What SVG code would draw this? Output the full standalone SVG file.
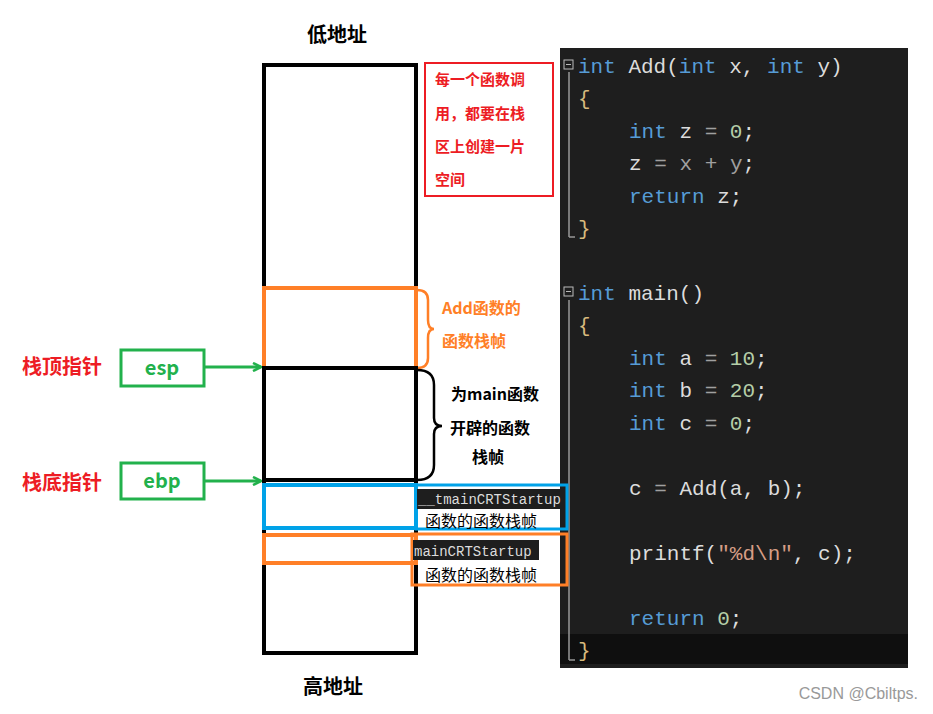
<svg xmlns="http://www.w3.org/2000/svg" width="933" height="714" viewBox="0 0 933 714">
<style>
.b{font-family:"Noto Sans CJK SC","Liberation Sans",sans-serif;font-weight:bold}
.c{font-family:"Liberation Mono",monospace;font-size:21px;fill:#dcdcdc}
.k{fill:#569cd6}.n{fill:#b5cea8}.br{fill:#d7ba7d}.o{fill:#a0a0a0}
.s{font-family:"Noto Sans CJK SC",sans-serif;font-size:16px}
</style>
<defs><marker id="ga" markerWidth="10" markerHeight="10" refX="9" refY="5" orient="auto" markerUnits="userSpaceOnUse"><path d="M1,1 L9,5 L1,9" fill="none" stroke="#22b14c" stroke-width="2.5"/></marker></defs>
<rect width="933" height="714" fill="#fff"/>
<g id="code">
<rect x="560" y="48" width="348" height="620" fill="#1e1e1e"/>
<rect x="560" y="634" width="348" height="30" fill="#0f0f0f"/>
<line x1="569" y1="72" x2="569" y2="237" stroke="#999" stroke-width="1.5"/><line x1="569" y1="237" x2="575" y2="237" stroke="#999" stroke-width="1.5"/>
<line x1="569" y1="300" x2="569" y2="660" stroke="#999" stroke-width="1.5"/><line x1="569" y1="660" x2="575" y2="660" stroke="#999" stroke-width="1.5"/>
<rect x="564" y="60" width="9" height="9" fill="none" stroke="#bbb"/><line x1="566" y1="64.5" x2="571" y2="64.5" stroke="#bbb"/>
<rect x="564" y="287" width="9" height="9" fill="none" stroke="#bbb"/><line x1="566" y1="291.5" x2="571" y2="291.5" stroke="#bbb"/>
<text class="c" x="578" y="73" xml:space="preserve"><tspan class="k">int</tspan> Add(<tspan class="k">int</tspan> x, <tspan class="k">int</tspan> y)</text>
<text class="c br" x="578" y="105">{</text>
<text class="c" x="629" y="138" xml:space="preserve"><tspan class="k">int</tspan> z <tspan class="o">=</tspan> <tspan class="n">0</tspan>;</text>
<text class="c" x="629" y="170" xml:space="preserve">z <tspan class="o">=</tspan> <tspan class="o">x</tspan> <tspan class="o">+</tspan> <tspan class="o">y</tspan>;</text>
<text class="c" x="629" y="203" xml:space="preserve"><tspan class="k">return</tspan> z;</text>
<text class="c br" x="578" y="235">}</text>
<text class="c" x="578" y="300" xml:space="preserve"><tspan class="k">int</tspan> main()</text>
<text class="c br" x="578" y="332">{</text>
<text class="c" x="629" y="365" xml:space="preserve"><tspan class="k">int</tspan> a <tspan class="o">=</tspan> <tspan class="n">10</tspan>;</text>
<text class="c" x="629" y="397" xml:space="preserve"><tspan class="k">int</tspan> b <tspan class="o">=</tspan> <tspan class="n">20</tspan>;</text>
<text class="c" x="629" y="430" xml:space="preserve"><tspan class="k">int</tspan> c <tspan class="o">=</tspan> <tspan class="n">0</tspan>;</text>
<text class="c" x="629" y="495" xml:space="preserve">c <tspan class="o">=</tspan> Add(a, b);</text>
<text class="c" x="629" y="560" xml:space="preserve">printf(<tspan fill="#d69d85">"%d\n"</tspan>, c);</text>
<text class="c" x="629" y="625" xml:space="preserve"><tspan class="k">return</tspan> <tspan class="n">0</tspan>;</text>
<text class="c br" x="578" y="657">}</text>
</g>
<g id="stack">
<rect x="264" y="65" width="152" height="588" fill="none" stroke="#000" stroke-width="4"/>
<text class="b" x="337" y="42" font-size="20" text-anchor="middle">低地址</text>
<text class="b" x="333" y="694" font-size="20" text-anchor="middle">高地址</text>
</g>
<g id="add-frame">
<rect x="264" y="288" width="152" height="80" fill="none" stroke="#ff7f27" stroke-width="4"/>
<path d="M417,290 Q428,290 428,300 L428,320 Q428,329 434,329 Q428,329 428,338 L428,358 Q428,368 417,368" fill="none" stroke="#ff7f27" stroke-width="2.5"/>
<text class="b" x="442" y="314" font-size="16" fill="#ff7f27">Add函数的</text>
<text class="b" x="442" y="347" font-size="16" fill="#ff7f27">函数栈帧</text>
</g>
<g id="main-frame">
<rect x="264" y="368" width="152" height="112" fill="none" stroke="#000" stroke-width="4"/>
<path d="M417,370 Q434,370 434,385 L434,418 Q434,426 442,426 Q434,426 434,434 L434,465 Q434,480 417,480" fill="none" stroke="#000" stroke-width="2.5"/>
<text class="b" x="495" y="400" font-size="16" text-anchor="middle">为main函数</text>
<text class="b" x="490" y="434" font-size="16" text-anchor="middle">开辟的函数</text>
<text class="b" x="488" y="463" font-size="16" text-anchor="middle">栈帧</text>
</g>
<g id="tmain-frame">
<rect x="264" y="485" width="152" height="43" fill="none" stroke="#00a2e8" stroke-width="4"/>
<rect x="416" y="485" width="151" height="44" fill="none" stroke="#00a2e8" stroke-width="3"/>
<rect x="417" y="489" width="148" height="20" fill="#1e1e1e"/>
<text x="418" y="504" font-family="Liberation Mono,monospace" font-size="14" fill="#dcdcdc">__tmainCRTStartup</text>
<text class="s" x="425" y="527">函数的函数栈帧</text>
</g>
<g id="maincrt-frame">
<rect x="264" y="535" width="152" height="28" fill="none" stroke="#ff7f27" stroke-width="4"/>
<rect x="412" y="534" width="155" height="51" fill="none" stroke="#ff7f27" stroke-width="3"/>
<rect x="413" y="540" width="126" height="20" fill="#1e1e1e"/>
<text x="414" y="556" font-family="Liberation Mono,monospace" font-size="14" fill="#dcdcdc">mainCRTStartup</text>
<text class="s" x="425" y="581">函数的函数栈帧</text>
</g>
<g id="note">
<rect x="425" y="63" width="128" height="133" fill="none" stroke="#ed1c24" stroke-width="2"/>
<text class="b" font-size="15" fill="#ed1c24"><tspan x="435" y="85">每一个函数调</tspan><tspan x="435" y="119">用，都要在栈</tspan><tspan x="435" y="152">区上创建一片</tspan><tspan x="435" y="185">空间</tspan></text>
</g>
<g id="esp">
<text class="b" x="22" y="374" font-size="20" fill="#ed1c24">栈顶指针</text>
<rect x="121" y="350" width="83" height="36" fill="none" stroke="#22b14c" stroke-width="3"/>
<text class="b" x="162" y="375" font-size="20" fill="#22b14c" text-anchor="middle">esp</text>
</g>
<g id="ebp">
<text class="b" x="22" y="490" font-size="20" fill="#ed1c24">栈底指针</text>
<rect x="121" y="463" width="83" height="36" fill="none" stroke="#22b14c" stroke-width="3"/>
<text class="b" x="162" y="488" font-size="20" fill="#22b14c" text-anchor="middle">ebp</text>
</g>
<g id="connectors">
<line x1="204" y1="367" x2="261" y2="367" stroke="#22b14c" stroke-width="3" marker-end="url(#ga)"/>
<line x1="204" y1="481" x2="261" y2="481" stroke="#22b14c" stroke-width="3" marker-end="url(#ga)"/>
</g>
<text x="918" y="699" font-family="Liberation Sans,sans-serif" font-size="16" fill="#999" text-anchor="end">CSDN @Cbiltps.</text>
</svg>
